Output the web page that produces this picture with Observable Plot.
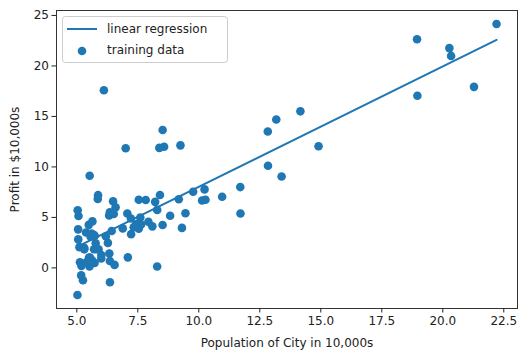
<!DOCTYPE html>
<html>
<head>
<meta charset="utf-8">
<script src="https://cdn.jsdelivr.net/npm/d3@7"></script>
<script src="https://cdn.jsdelivr.net/npm/@observablehq/plot@0.6"></script>
<style>
  html, body { margin: 0; padding: 0; background: #fff; }
  #chart { width: 531px; height: 357px; }
  svg text { font-family: "DejaVu Sans", sans-serif; }
</style>
</head>
<body>
<div id="chart"></div>
<script>
// Training data: population of city (10,000s) and profit ($10,000s)
const population = [6.1101,5.5277,8.5186,7.0032,5.8598,8.3829,7.4764,8.5781,6.4862,5.0546,5.7107,14.164,5.734,8.4084,5.6407,5.3794,6.3654,5.1301,6.4296,7.0708,6.1891,20.27,5.4901,6.3261,5.5649,18.945,12.828,10.957,13.176,22.203,5.2524,6.5894,9.2482,5.8918,8.2111,7.9334,8.0959,5.6063,12.836,6.3534,5.4069,6.8825,11.708,5.7737,7.8247,7.0931,5.0702,5.8014,11.7,5.5416,7.5402,5.3077,7.4239,7.6031,6.3328,6.3589,6.2742,5.6397,9.3102,9.4536,8.8254,5.1793,21.279,14.908,18.959,7.2182,8.2951,10.236,5.4994,20.341,10.136,7.3345,6.0062,7.2259,5.0269,6.5479,7.5386,5.0365,10.274,5.1077,5.7292,5.1884,6.3557,9.7687,6.5159,8.5172,9.1802,6.002,5.5204,5.0594,5.7077,7.6366,5.8707,5.3054,8.2934,13.394,5.4369];
const profit = [17.592,9.1302,13.662,11.854,6.8233,11.886,4.3483,12,6.5987,3.8166,3.2522,15.505,3.1551,7.2258,0.71618,3.5129,5.3048,0.56077,3.6518,5.3893,3.1386,21.767,4.263,5.1875,3.0825,22.638,13.501,7.0467,14.692,24.147,-1.22,5.9966,12.134,1.8495,6.5426,4.5623,4.1164,3.3928,10.117,5.4974,0.55657,3.9115,5.3854,2.4406,6.7318,1.0463,5.1337,1.844,8.0043,1.0179,6.7504,1.8396,4.2885,4.9981,1.4233,-1.4211,2.4756,4.6042,3.9624,5.4141,5.1694,-0.74279,17.929,12.054,17.054,4.8852,5.7442,7.7754,1.0173,20.992,6.6799,4.0259,1.2784,3.3411,-2.6807,0.29678,3.8845,5.7014,6.7526,2.0576,0.47953,0.20421,0.67861,7.5435,5.3436,4.2415,6.7981,0.92695,0.152,2.8214,1.8451,4.2959,7.2029,1.9869,0.14454,9.0551,0.61705];

// Regression line endpoints
const lineX = [5.0269, 22.203];
const lineY = [2.10, 22.59];

const xTicks = [5, 7.5, 10, 12.5, 15, 17.5, 20, 22.5];
const yTicks = [0, 5, 10, 15, 20, 25];

const legendLabels = ["linear regression", "training data"];

const points = population.map((x, i) => ({x, y: profit[i]}));
const linePts = lineX.map((x, i) => ({x, y: lineY[i]}));

const blue = "#1f77b4";

const chart = Plot.plot({
  width: 531,
  height: 357,
  marginLeft: 56,
  marginRight: 14,
  marginTop: 10,
  marginBottom: 49,
  style: {fontFamily: "DejaVu Sans, sans-serif", fontSize: "12px", color: "#222", background: "#fff"},
  x: {domain: [4.168, 23.062]},
  y: {domain: [-4.02, 25.49]},
  marks: [
    Plot.line(linePts, {x: "x", y: "y", stroke: blue, strokeWidth: 2}),
    Plot.dot(points, {x: "x", y: "y", r: 4.3, fill: blue, stroke: "none"}),
    Plot.frame({stroke: "#333", strokeWidth: 1}),
    Plot.axisX({ticks: xTicks, tickFormat: d3.format(".1f"), tickSize: 4.5, tickPadding: 3,
      label: "Population of City in 10,000s", labelAnchor: "center", labelArrow: "none", labelOffset: 38,
      fontSize: 12}),
    Plot.axisY({ticks: yTicks, tickFormat: d3.format("d"), tickSize: 4.5, tickPadding: 3,
      label: "Profit in $10,000s", labelAnchor: "center", labelArrow: "none", labelOffset: 46,
      fontSize: 12})
  ]
});

document.getElementById("chart").appendChild(chart);

// Legend (matplotlib-style, upper left)
const svg = d3.select(chart);
const lg = svg.append("g").attr("class", "legend").attr("text-anchor", "start");
lg.append("rect")
  .attr("x", 62.5).attr("y", 16.5).attr("width", 165).attr("height", 46)
  .attr("rx", 3).attr("ry", 3)
  .attr("fill", "white").attr("fill-opacity", 0.8)
  .attr("stroke", "#ccc").attr("stroke-width", 1);
lg.append("line")
  .attr("x1", 67).attr("x2", 97).attr("y1", 29).attr("y2", 29)
  .attr("stroke", blue).attr("stroke-width", 2);
lg.append("circle")
  .attr("cx", 82).attr("cy", 51).attr("r", 4.3).attr("fill", blue).attr("stroke", "none");
lg.selectAll("text.lbl").data(legendLabels).join("text")
  .attr("class", "lbl")
  .attr("x", 107)
  .attr("y", (d, i) => i === 0 ? 29 : 50)
  .attr("dy", "0.35em")
  .attr("text-anchor", "start")
  .attr("font-size", 12)
  .attr("fill", "#222")
  .text(d => d);
</script>
</body>
</html>
